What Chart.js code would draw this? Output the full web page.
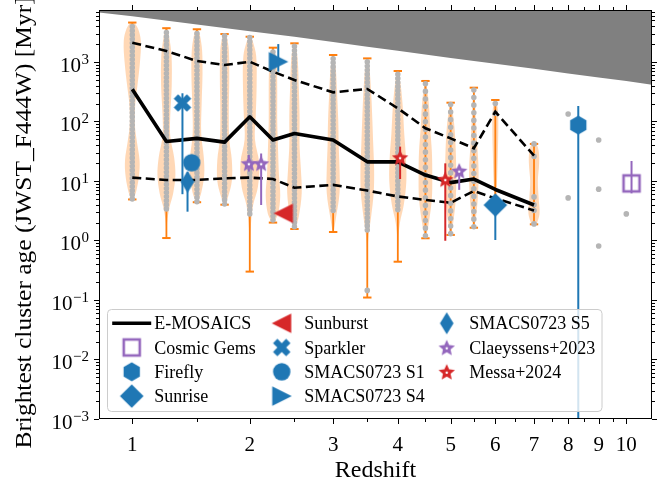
<!DOCTYPE html>
<html>
<head>
<meta charset="utf-8">
<script src="https://cdn.jsdelivr.net/npm/chart.js@4.4.0/dist/chart.umd.min.js"></script>
<style>html,body{margin:0;padding:0;background:#fff}</style>
</head>
<body>
<canvas id="grafico" width="668" height="485"></canvas>
<script>
// ================= DADOS =================
// violinos E-MOSAICS (redshift de cada violino)
const violinZ = [1, 1.25, 1.5, 1.75, 2, 2.25, 2.5, 3, 3.5, 4, 4.5, 5, 5.5, 6, 7];
const ageMin = [4.9, 1.1, 4.4, 4.0, 0.30, 2.0, 1.56, 1.39, 0.11, 0.44, 1.09, 1.24, 1.64, 4.5, 1.87];
const ageMax = [4600, 3700, 3550, 2950, 2660, 1740, 2060, 1310, 1150, 706, 480, 207, 370, 230, 42];
const ageMedian = [348, 46, 52, 45, 120, 49, 63, 49, 21, 21, 12.6, 9.4, 10.8, 7.2, 3.95];
const ageP84 = [2110, 1530, 1040, 890, 1010, 687, 498, 309, 352, 167, 77, 52, 35.5, 146, 26.6];
const ageP16 = [11.4, 10.4, 10.4, 11.1, 11.4, 10.8, 7.7, 8.6, 6.9, 5.5, 4.8, 4.3, 6.8, 5.1, 3.2];

// perfil de densidade de cada violino: log10(idade) e largura relativa
const violinLevels = [
  [0.69, 0.85, 1.1, 1.35, 1.65, 1.95, 2.3, 2.6, 3.0, 3.35, 3.55, 3.66],
  [0.04, 0.3, 0.55, 0.8, 1.1, 1.4, 1.75, 2.1, 2.6, 3.1, 3.4, 3.57],
  [0.64, 0.8, 1.1, 1.4, 1.8, 2.3, 2.8, 3.2, 3.45, 3.55],
  [0.6, 0.75, 1.0, 1.35, 1.7, 2.2, 2.7, 3.2, 3.4, 3.47],
  [-0.52, -0.1, 0.3, 0.6, 0.9, 1.3, 1.7, 2.1, 2.6, 3.1, 3.35, 3.43],
  [0.3, 0.45, 0.75, 1.1, 1.5, 2.0, 2.5, 2.9, 3.15, 3.24],
  [0.19, 0.4, 0.8, 1.2, 1.6, 2.1, 2.6, 3.0, 3.25, 3.31],
  [0.14, 0.4, 0.8, 1.2, 1.6, 2.0, 2.5, 2.9, 3.12],
  [-0.955, -0.5, 0.0, 0.4, 0.8, 1.2, 1.6, 2.0, 2.5, 2.9, 3.06],
  [-0.36, 0.0, 0.3, 0.6, 1.0, 1.4, 1.8, 2.2, 2.6, 2.85],
  [0.04, 0.3, 0.7, 1.1, 1.5, 1.9, 2.3, 2.6, 2.68],
  [0.09, 0.35, 0.7, 1.1, 1.5, 1.9, 2.2, 2.32],
  [0.21, 0.45, 0.8, 1.2, 1.6, 2.0, 2.4, 2.57],
  [0.65, 1.0, 1.5, 1.9, 2.2, 2.36],
  [0.27, 0.45, 0.7, 1.0, 1.3, 1.5, 1.62]
];
const violinDensity = [
  [0.15, 0.5, 0.8, 0.85, 0.55, 0.3, 0.35, 0.6, 0.9, 1.0, 0.7, 0.2],
  [0.01, 0.08, 0.35, 0.8, 1.05, 0.9, 0.45, 0.45, 0.62, 0.6, 0.35, 0.1],
  [0.1, 0.5, 0.85, 0.8, 0.5, 0.55, 0.65, 0.6, 0.35, 0.1],
  [0.1, 0.45, 0.85, 0.85, 0.55, 0.5, 0.55, 0.5, 0.3, 0.1],
  [0.01, 0.03, 0.15, 0.4, 0.95, 1.1, 0.6, 0.7, 0.8, 0.75, 0.35, 0.1],
  [0.1, 0.6, 0.85, 0.7, 0.6, 0.5, 0.5, 0.45, 0.25, 0.05],
  [0.08, 0.5, 0.85, 0.75, 0.6, 0.6, 0.5, 0.4, 0.2, 0.05],
  [0.05, 0.35, 0.75, 0.75, 0.65, 0.6, 0.45, 0.3, 0.05],
  [0.01, 0.03, 0.1, 0.45, 0.75, 0.8, 0.7, 0.6, 0.45, 0.25, 0.05],
  [0.01, 0.05, 0.25, 0.7, 1.0, 0.95, 0.75, 0.6, 0.35, 0.05],
  [0.05, 0.4, 0.75, 0.8, 0.75, 0.55, 0.4, 0.15, 0.03],
  [0.05, 0.35, 0.6, 0.65, 0.6, 0.45, 0.2, 0.03],
  [0.05, 0.3, 0.5, 0.55, 0.4, 0.25, 0.12, 0.03],
  [0.05, 0.2, 0.3, 0.35, 0.3, 0.05],
  [0.3, 0.65, 0.55, 0.45, 0.6, 0.55, 0.25]
];

// faixa densa de aglomerados individuais (pontos cinza) em cada violino
const bandLo = [5, 3.4, 4.5, 4.1, 2.8, 2.2, 1.7, 3.2, 1.5, 3.3, 1.2, 1.3, 1.7, null, null];
const bandHi = [4500, 3600, 3500, 2900, 2600, 1700, 2000, 1300, 1100, 700, 470, 205, 365, null, null];
// aglomerados isolados
const dotZ = [3.5, 6, 6, 7, 7, 7, 7, 7, 7, 8, 8, 9, 9, 9, 10];
const dotAge = [0.145, 200, 138, 42, 26, 5.4, 4.0, 3.2, 1.9, 134, 5.2, 49, 7.3, 0.81, 2.8];

// idade do universo (regiao cinza)
const universeZ = [0.783, 1, 1.5, 2, 2.5, 3, 3.5, 4, 5, 6, 7, 8, 9, 10, 11.02];
const universeAge = [6800, 5860, 4260, 3300, 2650, 2170, 1800, 1540, 1170, 930, 770, 640, 550, 480, 415];

// observacoes
const obsName = ['Cosmic Gems', 'Firefly', 'Sunrise', 'Sunburst', 'Sparkler', 'SMACS0723 S1',
  'SMACS0723 S4', 'SMACS0723 S5', 'Claeyssens+2023', 'Claeyssens+2023', 'Claeyssens+2023',
  'Messa+2024', 'Messa+2024'];
const obsZ = [10.2, 8.32, 6.0, 2.37, 1.378, 1.455, 2.31, 1.42, 1.99, 2.12, 5.18, 4.04, 4.89];
const obsAge = [9.1, 87, 3.95, 2.86, 205, 20.3, 1010, 9.7, 19.8, 19.8, 14.9, 25, 10.7];
const obsLo = [6.2, 1e-4, 1.02, null, 6, null, 687, 3.05, 14.4, 3.95, 7.1, 10.8, 0.99];
const obsHi = [21.7, 182, 4.5, null, 298, null, 2000, 14, 27.4, 29, 16, 37.8, 19.8];

// eixos
const xTickZ = [1, 2, 3, 4, 5, 6, 7, 8, 9, 10];
const xTickLabels = ['1', '2', '3', '4', '5', '6', '7', '8', '9', '10'];
const xMinorZ = [1.5, 2.5, 3.5, 4.5, 5.5, 6.5, 7.5, 8.5, 9.5];
const yTickExp = [-3, -2, -1, 0, 1, 2, 3];

// ================= ESTILO =================
const ORANGE = '#ff7f0e', BLUE = '#1f77b4', RED = '#d62728', PURPLE = '#9467bd';
const GRAY_DOT = '#b5b5b5';
const SERIF = '"Liberation Serif", "DejaVu Serif", serif';
const VIOLIN_W = 0.0128; // meia largura maxima em decadas de (1+z)

function marcador(w, h, desenha) {
  const c = document.createElement('canvas');
  c.width = w; c.height = h;
  const g = c.getContext('2d');
  g.translate(w / 2, h / 2);
  desenha(g);
  return c;
}
function poligono(g, pts, cor) {
  g.beginPath();
  pts.forEach(([px, py], i) => i ? g.lineTo(px, py) : g.moveTo(px, py));
  g.closePath();
  g.fillStyle = cor;
  g.fill();
}
function estrela(g, cor) {
  const pts = [], miolo = [];
  for (let k = 0; k < 10; k++) {
    const r = k % 2 ? 4 : 8.6;
    const ang = -Math.PI / 2 + k * Math.PI / 5;
    pts.push([r * Math.cos(ang), r * Math.sin(ang) + 0.8]);
    if (k % 2 === 0) miolo.push([1.4 * Math.cos(ang), 1.4 * Math.sin(ang) + 0.8]);
  }
  poligono(g, pts, cor);
  poligono(g, miolo, '#fff');
}

const markers = {
  'Cosmic Gems': marcador(24, 24, g => { g.strokeStyle = PURPLE; g.lineWidth = 2.6; g.strokeRect(-8, -8, 16, 16); }),
  'Firefly': marcador(22, 22, g => {
    const pts = [];
    for (let k = 0; k < 6; k++) { const a = -Math.PI / 2 + k * Math.PI / 3; pts.push([9.4 * Math.cos(a), 9.4 * Math.sin(a)]); }
    poligono(g, pts, BLUE);
  }),
  'Sunrise': marcador(26, 26, g => poligono(g, [[0, -11.8], [11.8, 0], [0, 11.8], [-11.8, 0]], BLUE)),
  'Sunburst': marcador(22, 22, g => poligono(g, [[-10, 0], [9.5, -9.8], [9.5, 9.8]], RED)),
  'Sparkler': marcador(22, 22, g => {
    const s = 17.5;
    const p = [[0.25, 0], [0.5, 0.25], [0.25, 0.5], [0, 0.25], [-0.25, 0.5], [-0.5, 0.25], [-0.25, 0],
      [-0.5, -0.25], [-0.25, -0.5], [0, -0.25], [0.25, -0.5], [0.5, -0.25]];
    poligono(g, p.map(([a, b]) => [a * s, b * s]), BLUE);
  }),
  'SMACS0723 S1': marcador(22, 22, g => { g.beginPath(); g.arc(0, 0, 8.7, 0, Math.PI * 2); g.fillStyle = BLUE; g.fill(); }),
  'SMACS0723 S4': marcador(22, 22, g => poligono(g, [[10, 0], [-9.5, -9.8], [-9.5, 9.8]], BLUE)),
  'SMACS0723 S5': marcador(18, 26, g => poligono(g, [[0, -11], [6.8, 0], [0, 11], [-6.8, 0]], BLUE)),
  'Claeyssens+2023': marcador(20, 20, g => estrela(g, PURPLE)),
  'Messa+2024': marcador(20, 20, g => estrela(g, RED))
};
const obsColor = {
  'Cosmic Gems': PURPLE, 'Firefly': BLUE, 'Sunrise': BLUE, 'Sunburst': RED, 'Sparkler': BLUE,
  'SMACS0723 S1': BLUE, 'SMACS0723 S4': BLUE, 'SMACS0723 S5': BLUE,
  'Claeyssens+2023': PURPLE, 'Messa+2024': RED
};

// ================= DATASETS (de tras para frente) =================
const camadas = [];
const ponto = (z, age) => ({ x: 1 + z, y: age });

// idade do universo
camadas.push({
  data: universeZ.map((z, i) => ponto(z, universeAge[i])),
  borderWidth: 0, backgroundColor: '#808080', fill: 'end', pointRadius: 0
});

// corpos dos violinos
violinZ.forEach((z, i) => {
  const L = violinLevels[i], d = violinDensity[i];
  const pts = [];
  for (let k = 0; k < L.length; k++) pts.push({ x: (1 + z) * Math.pow(10, VIOLIN_W * d[k]), y: Math.pow(10, L[k]) });
  for (let k = L.length - 1; k >= 0; k--) pts.push({ x: (1 + z) * Math.pow(10, -VIOLIN_W * d[k]), y: Math.pow(10, L[k]) });
  camadas.push({
    data: pts, fill: 'shape', backgroundColor: 'rgba(255,127,14,0.3)',
    borderWidth: 0, borderColor: 'rgba(0,0,0,0)', pointRadius: 0, tension: 0.35
  });
});

// barras de extremos
violinZ.forEach((z, i) => {
  camadas.push({
    data: [ponto(z, ageMin[i]), ponto(z, ageMax[i])],
    borderColor: ORANGE, borderWidth: 1.8, pointRadius: 0, fill: false
  });
});
camadas.push({
  data: violinZ.flatMap((z, i) => [ponto(z, ageMin[i]), ponto(z, ageMax[i])]),
  showLine: false, pointStyle: 'line', pointRadius: 4.2, pointBorderWidth: 2, pointBorderColor: ORANGE
});

// pontos cinza
violinZ.forEach((z, i) => {
  if (bandLo[i] === null) return;
  const esparso = z >= 4.5;
  camadas.push({
    data: [ponto(z, bandLo[i]), ponto(z, bandHi[i])],
    borderColor: GRAY_DOT, borderWidth: 5.5, borderCapStyle: 'round',
    borderDash: esparso ? [0.1, 7.5] : [0.1, 4], pointRadius: 0, fill: false
  });
});
camadas.push({
  data: dotZ.map((z, i) => ponto(z, dotAge[i])),
  showLine: false, pointRadius: 2.8, pointBorderWidth: 0, pointBackgroundColor: GRAY_DOT
});

// E-MOSAICS: percentis e mediana
[ageP84, ageP16].forEach(serie => camadas.push({
  data: violinZ.map((z, i) => ponto(z, serie[i])),
  borderColor: '#000', borderWidth: 2.6, borderDash: [9, 4.5], pointRadius: 0, fill: false
}));
camadas.push({
  data: violinZ.map((z, i) => ponto(z, ageMedian[i])),
  borderColor: '#000', borderWidth: 3.6, borderJoinStyle: 'round', pointRadius: 0, fill: false
});

// barras de erro e marcadores
obsZ.forEach((z, i) => {
  if (obsLo[i] === null) return;
  camadas.push({
    data: [ponto(z, obsLo[i]), ponto(z, obsHi[i])],
    borderColor: obsColor[obsName[i]], borderWidth: 2, pointRadius: 0, fill: false
  });
});
obsZ.forEach((z, i) => {
  camadas.push({
    data: [ponto(z, obsAge[i])],
    showLine: false, pointStyle: markers[obsName[i]], pointRadius: 6
  });
});

// ================= EIXOS E LEGENDA =================
function textoPotencia(ctx, exp, xRight, yTick) {
  const base = '10';
  const sup = exp < 0 ? '\u2212' + Math.abs(exp) : String(exp);
  ctx.font = '15px ' + SERIF;
  const wS = ctx.measureText(sup).width;
  ctx.fillText(sup, xRight - wS, yTick + 2);
  ctx.font = '21px ' + SERIF;
  const wB = ctx.measureText(base).width;
  ctx.fillText(base, xRight - wS - wB - 0.5, yTick + 10);
}

const eixosPlugin = {
  id: 'eixos',
  afterDatasetsDraw(chart) {
    const { ctx, chartArea: a, scales: { x, y } } = chart;
    ctx.save();
    ctx.strokeStyle = '#000';
    ctx.fillStyle = '#000';
    ctx.lineWidth = 1;

    const tickX = (px, len) => {
      const xx = Math.round(px) + 0.5;
      ctx.beginPath();
      ctx.moveTo(xx, a.bottom); ctx.lineTo(xx, a.bottom + len);
      ctx.moveTo(xx, a.top); ctx.lineTo(xx, a.top - len);
      ctx.stroke();
    };
    const tickY = (py, len) => {
      const yy = Math.round(py) + 0.5;
      ctx.beginPath();
      ctx.moveTo(a.left, yy); ctx.lineTo(a.left - len, yy);
      ctx.moveTo(a.right, yy); ctx.lineTo(a.right + len, yy);
      ctx.stroke();
    };

    xTickZ.forEach(z => tickX(x.getPixelForValue(1 + z), 5));
    xMinorZ.forEach(z => tickX(x.getPixelForValue(1 + z), 3));
    yTickExp.forEach(e => {
      tickY(y.getPixelForValue(Math.pow(10, e)), 5);
      for (let m = 2; m <= 9; m++) {
        const v = m * Math.pow(10, e);
        if (v < y.max) tickY(y.getPixelForValue(v), 3);
      }
    });

    ctx.strokeRect(a.left + 0.5, a.top + 0.5, a.right - a.left - 1, a.bottom - a.top - 1);

    // rotulos
    ctx.textBaseline = 'alphabetic';
    ctx.textAlign = 'center';
    ctx.font = '21px ' + SERIF;
    xTickZ.forEach((z, i) => ctx.fillText(xTickLabels[i], x.getPixelForValue(1 + z), a.bottom + 32));
    ctx.textAlign = 'left';
    yTickExp.forEach(e => textoPotencia(ctx, e, a.left - 10, y.getPixelForValue(Math.pow(10, e))));

    ctx.textAlign = 'center';
    ctx.font = '24px ' + SERIF;
    ctx.fillText('Redshift', (a.left + a.right) / 2, 477);
    ctx.save();
    ctx.translate(31, (a.top + a.bottom) / 2 + 8);
    ctx.rotate(-Math.PI / 2);
    ctx.scale(1.06, 1);
    ctx.fillText('Brightest cluster age (JWST_F444W) [Myr]', 0, 0);
    ctx.restore();

    // legenda
    const box = { x: 107.5, y: 309.5, w: 494.5, h: 102 };
    ctx.beginPath();
    ctx.roundRect(box.x, box.y, box.w, box.h, 4);
    ctx.fillStyle = 'rgba(255,255,255,0.8)';
    ctx.fill();
    ctx.strokeStyle = '#cccccc';
    ctx.stroke();

    const nomes = ['E-MOSAICS'];
    obsName.forEach(n => { if (!nomes.includes(n)) nomes.push(n); });
    const colX = [131.7, 281.7, 446.7];
    const rowY = [323.3, 347.5, 371.8, 396.1];
    ctx.font = '18px ' + SERIF;
    ctx.textAlign = 'left';
    ctx.fillStyle = '#000';
    nomes.forEach((n, k) => {
      const cx = colX[Math.floor(k / 4)], cy = rowY[k % 4];
      if (n === 'E-MOSAICS') {
        ctx.strokeStyle = '#000'; ctx.lineWidth = 3.6;
        ctx.beginPath(); ctx.moveTo(cx - 19.5, cy); ctx.lineTo(cx + 19.5, cy); ctx.stroke();
      } else {
        const m = markers[n];
        ctx.drawImage(m, cx - m.width / 2, cy - m.height / 2);
      }
      ctx.fillText(n, cx + 22.5, cy + 6);
    });
    ctx.restore();
  }
};

const grafico = new Chart(document.getElementById('grafico'), {
  type: 'line',
  data: { datasets: camadas.reverse() },
  options: {
    responsive: false,
    animation: false,
    devicePixelRatio: 1,
    events: [],
    layout: { padding: { left: 99, top: 10, right: 16, bottom: 66 } },
    plugins: { legend: { display: false }, tooltip: { enabled: false } },
    scales: {
      x: { type: 'logarithmic', min: 1.783, max: 12.02, display: false },
      y: { type: 'logarithmic', min: 1e-3, max: 7480, display: false }
    }
  },
  plugins: [eixosPlugin]
});
</script>
</body>
</html>
